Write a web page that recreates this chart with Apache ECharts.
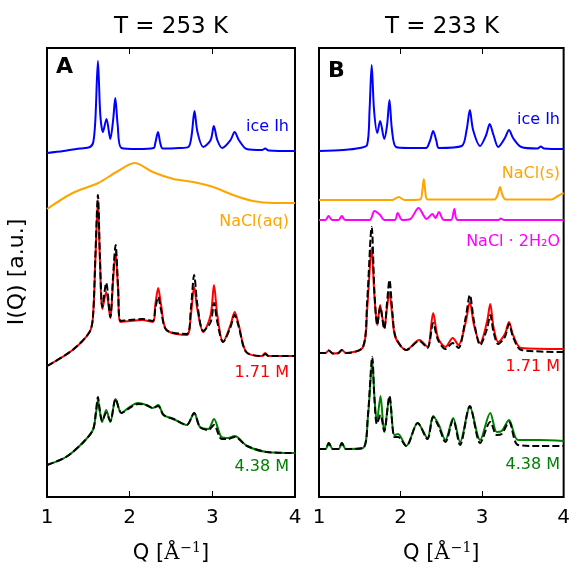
<!DOCTYPE html>
<html>
<head>
<meta charset="utf-8">
<script src="https://cdn.jsdelivr.net/npm/echarts@6/dist/echarts.min.js"></script>
<style>html,body{margin:0;padding:0;background:#fff}#c{width:573px;height:572px}</style>
</head>
<body>
<div id="c"></div>
<script>
// x ticks
const qTicks = [1, 2, 3, 4];
const titles = ['T = 253 K', 'T = 233 K'];
const panelLetters = ['A', 'B'];

// Panel A (T = 253 K): [Q, I(Q) offset a.u.]
const iceA = [[1.00,344],[1.20,346],[1.40,348.5],[1.52,350],[1.56,355],[1.585,377],[1.616,436],[1.645,382],[1.676,365],[1.72,378],[1.766,358],[1.80,377],[1.826,399],[1.855,372],[1.90,349],[2.10,348],[2.29,349],[2.31,354],[2.343,365],[2.37,354],[2.40,348.5],[2.60,349],[2.71,350],[2.75,362],[2.784,386],[2.82,365],[2.89,350],[2.98,357],[3.018,371],[3.06,357],[3.119,349],[3.22,357],[3.27,365],[3.32,357],[3.415,348],[3.60,347],[3.64,348.5],[3.68,346.5],[4.00,346]];
const naclAqA = [[1.00,288],[1.31,304],[1.62,314],[1.84,325],[2.06,334],[2.28,325],[2.53,318],[2.77,315],[3.01,310],[3.25,302],[3.49,296],[3.74,294],[4.00,294]];
const red171A = [[1.00,131],[1.31,147],[1.515,165],[1.556,180],[1.585,237],[1.616,297],[1.64,237],[1.67,188],[1.716,205],[1.766,179],[1.80,217],[1.83,245],[1.86,207],[1.89,175],[2.0,176],[2.15,177],[2.28,175],[2.31,192],[2.345,209],[2.38,192],[2.445,167],[2.69,162],[2.74,182],[2.78,210],[2.82,187],[2.89,165],[2.98,182],[3.02,212],[3.06,182],[3.13,155],[3.22,172],[3.27,185],[3.32,172],[3.41,145],[3.60,141],[3.64,144],[3.68,141],[4.00,141]];
const fit171A = [[1.00,131],[1.31,147],[1.515,165],[1.556,180],[1.585,240],[1.616,302],[1.64,242],[1.67,190],[1.716,214],[1.766,180],[1.80,222],[1.83,252],[1.86,210],[1.89,176],[2.0,177],[2.15,178],[2.28,176],[2.31,188],[2.345,200],[2.38,187],[2.445,167],[2.69,163],[2.74,188],[2.78,222],[2.82,192],[2.89,166],[2.98,175],[3.02,194],[3.06,175],[3.13,155],[3.22,170],[3.27,182],[3.32,170],[3.41,145],[3.60,141],[3.64,143],[3.68,141],[4.00,141]];
const green438A = [[1.00,32],[1.23,40],[1.43,54],[1.555,67],[1.59,82],[1.616,97],[1.64,85],[1.667,75],[1.716,87],[1.766,75],[1.83,98],[1.9,84],[2.0,90],[2.1,94],[2.2,92],[2.28,89],[2.345,92],[2.41,82],[2.53,78],[2.69,72],[2.78,84],[2.85,70],[2.95,68],[3.02,78],[3.11,60],[3.19,59],[3.27,61],[3.42,51],[3.66,45],[4.00,44]];
const fit438A = [[1.00,32],[1.23,40],[1.43,54],[1.555,67],[1.59,84],[1.616,100],[1.64,86],[1.667,76],[1.716,84],[1.766,76],[1.83,98],[1.9,84],[2.0,89],[2.1,93],[2.2,92],[2.28,89],[2.345,91],[2.41,82],[2.53,78],[2.69,72],[2.78,84],[2.85,70],[2.95,67],[3.02,72],[3.11,58],[3.19,58],[3.27,60],[3.42,51],[3.66,45],[4.00,44]];

// Panel B (T = 233 K)
const iceB = [[1.00,346],[1.30,347],[1.50,349],[1.59,352],[1.62,387],[1.646,432],[1.675,387],[1.715,364],[1.75,376],[1.80,358],[1.835,372],[1.864,397],[1.895,367],[1.944,350],[2.10,349],[2.31,349],[2.36,356],[2.40,366],[2.44,356],[2.47,349],[2.75,351],[2.81,367],[2.85,387],[2.89,367],[2.976,351],[3.05,362],[3.093,373],[3.14,362],[3.198,350],[3.28,359],[3.33,367],[3.38,359],[3.48,350],[3.68,348.5],[3.72,350.5],[3.76,348.5],[4.00,348]];
const naclSB = [[1.00,297],[1.90,297],[1.977,300],[2.05,297],[2.24,297.5],[2.265,305],[2.285,318],[2.305,305],[2.33,297.5],[3.15,297.5],[3.19,302],[3.22,310],[3.25,302],[3.29,297.5],[3.85,297.5],[3.93,301],[4.00,304]];
const hydrateB = [[1.00,277],[1.08,277],[1.117,281],[1.16,277],[1.24,277],[1.28,281],[1.32,277],[1.62,277],[1.68,286],[1.75,282],[1.80,277],[1.93,277],[1.965,284],[2.02,277],[2.12,278],[2.22,289],[2.32,278],[2.39,283],[2.43,279],[2.47,285],[2.53,277],[2.62,277],[2.66,288],[2.70,277],[3.20,277],[3.23,278.5],[3.27,277],[4.00,277]];
const red171B = [[1.00,144],[1.08,144],[1.12,146.5],[1.17,143.5],[1.24,144],[1.28,147],[1.33,144],[1.54,150],[1.59,187],[1.646,249],[1.68,200],[1.715,172],[1.75,192],[1.80,169],[1.835,190],[1.864,205],[1.90,180],[1.94,159],[2.07,147],[2.23,157],[2.33,150],[2.40,184],[2.46,159],[2.55,150],[2.64,159],[2.71,152],[2.80,175],[2.85,195],[2.90,172],[2.976,154],[3.06,175],[3.10,193],[3.14,170],[3.198,155],[3.28,163],[3.33,175],[3.38,162],[3.48,149],[4.00,148]];
const fit171B = [[1.00,144],[1.08,144],[1.12,146.5],[1.17,143.5],[1.24,144],[1.28,147],[1.33,144],[1.54,150],[1.59,195],[1.646,270],[1.68,205],[1.715,172],[1.75,190],[1.80,168],[1.835,195],[1.864,217],[1.90,185],[1.94,160],[2.07,147],[2.23,156],[2.33,149],[2.40,174],[2.46,157],[2.55,148],[2.64,154],[2.71,149],[2.80,180],[2.85,202],[2.90,176],[2.976,152],[3.06,168],[3.10,182],[3.14,165],[3.198,153],[3.28,160],[3.33,173],[3.38,160],[3.48,147],[4.00,145]];
const green438B = [[1.00,48],[1.08,48],[1.12,54],[1.17,48],[1.24,48],[1.28,54],[1.33,48],[1.54,49],[1.60,80],[1.653,135],[1.68,100],[1.71,75],[1.754,101],[1.80,65],[1.864,100],[1.925,62],[1.97,63],[2.07,51],[2.21,74],[2.33,59],[2.40,81],[2.47,72],[2.55,57],[2.645,79],[2.73,55],[2.85,90],[2.976,57],[3.10,84],[3.18,65],[3.24,66],[3.33,77],[3.44,57],[3.70,57],[4.00,56]];
const fit438B = [[1.00,48],[1.08,48],[1.12,54],[1.17,48],[1.24,48],[1.28,54],[1.33,48],[1.54,49],[1.60,82],[1.653,140],[1.68,98],[1.71,73],[1.754,82],[1.80,66],[1.864,101],[1.925,60],[1.97,60],[2.07,51],[2.21,74],[2.33,58],[2.40,80],[2.47,70],[2.55,55],[2.645,77],[2.73,52],[2.85,91],[2.976,54],[3.10,75],[3.18,62],[3.24,63],[3.33,75],[3.44,52],[3.70,51],[4.00,51]];

const labelsA = ['ice Ih', 'NaCl(aq)', '1.71 M', '4.38 M'];
const labelsB = ['ice Ih', 'NaCl(s)', 'NaCl · 2H₂O', '1.71 M', '4.38 M'];

const FONT = '"DejaVu Sans", sans-serif';
const chart = echarts.init(document.getElementById('c'));

function line(data, color, gi, dashed) {
  return {
    type: 'line', data: data, xAxisIndex: gi, yAxisIndex: gi,
    showSymbol: false, smooth: 0.3, animation: false, silent: true,
    lineStyle: { color: color, width: 2, type: dashed ? [7, 3] : 'solid' },
    z: dashed ? 5 : 3
  };
}
function xBottom(gi) {
  return {
    type: 'value', gridIndex: gi, min: 1, max: 4, interval: 1, position: 'bottom',
    axisLine: { show: false }, splitLine: { show: false },
    axisTick: { show: true, inside: true, length: 6, lineStyle: { color: '#000', width: 1 } },
    axisLabel: { color: '#000', fontSize: 20, fontFamily: FONT, margin: 11,
      formatter: v => qTicks.includes(v) ? String(v) : '' },
    name: 'Q [{a|Å}{s|−1}]', nameLocation: 'middle', nameGap: 44,
    nameTextStyle: { color: '#000', fontSize: 21, fontFamily: FONT,
      rich: { a: { fontSize: 21, fontFamily: '"DejaVu Serif", serif', color: '#000' },
              s: { fontSize: 14, fontFamily: '"DejaVu Serif", serif', color: '#000', padding: [0, 0, 12, 1] } } }
  };
}
function xTop(gi) {
  return {
    type: 'value', gridIndex: gi, min: 1, max: 4, interval: 1, position: 'top',
    axisLine: { show: false }, splitLine: { show: false }, axisLabel: { show: false },
    axisTick: { show: true, inside: true, length: 6, lineStyle: { color: '#000', width: 1 } }
  };
}
function yAx(gi) {
  return { type: 'value', gridIndex: gi, min: 0, max: 449, show: false, splitLine: { show: false } };
}
function txt(x, y, s, color, align, size, weight) {
  return { type: 'text', x: x, y: y, silent: true, z: 10,
    style: { text: s, fill: color, align: align || 'right', verticalAlign: 'middle',
      font: (weight || 'normal') + ' ' + (size || 16) + 'px ' + FONT } };
}

const option = {
  backgroundColor: '#fff',
  animation: false,
  grid: [
    { left: 47, top: 48, width: 248, height: 449, show: true, borderColor: '#000', borderWidth: 2, backgroundColor: 'transparent' },
    { left: 319, top: 48, width: 247, height: 449, show: true, borderColor: '#000', borderWidth: 2, backgroundColor: 'transparent' }
  ],
  xAxis: [xBottom(0), xBottom(1), xTop(0), xTop(1)],
  yAxis: [yAx(0), yAx(1)],
  series: [
    line(iceA, '#0000ff', 0), line(naclAqA, '#ffa500', 0),
    line(red171A, '#ff0000', 0), line(fit171A, '#000000', 0, true),
    line(green438A, '#008000', 0), line(fit438A, '#000000', 0, true),
    line(iceB, '#0000ff', 1), line(naclSB, '#ffa500', 1), line(hydrateB, '#ff00ff', 1),
    line(red171B, '#ff0000', 1), line(fit171B, '#000000', 1, true),
    line(green438B, '#008000', 1), line(fit438B, '#000000', 1, true)
  ],
  graphic: [
    txt(171, 27, titles[0], '#000', 'center', 23),
    txt(442, 27, titles[1], '#000', 'center', 23),
    txt(56, 67, panelLetters[0], '#000', 'left', 22, 'bold'),
    txt(328, 71, panelLetters[1], '#000', 'left', 22, 'bold'),
    { type: 'text', x: 17, y: 272, rotation: Math.PI / 2, silent: true,
      style: { text: 'I(Q) [a.u.]', fill: '#000', align: 'center', verticalAlign: 'middle', font: '22px ' + FONT } },
    txt(289, 127, labelsA[0], '#0000ff'),
    txt(289, 222, labelsA[1], '#ffa500'),
    txt(289, 373, labelsA[2], '#ff0000'),
    txt(289, 467, labelsA[3], '#008000'),
    txt(560, 120, labelsB[0], '#0000ff'),
    txt(560, 174, labelsB[1], '#ffa500'),
    txt(560, 242, labelsB[2], '#ff00ff'),
    txt(560, 367, labelsB[3], '#ff0000'),
    txt(560, 465, labelsB[4], '#008000')
  ]
};
chart.setOption(option);
</script>
</body>
</html>
